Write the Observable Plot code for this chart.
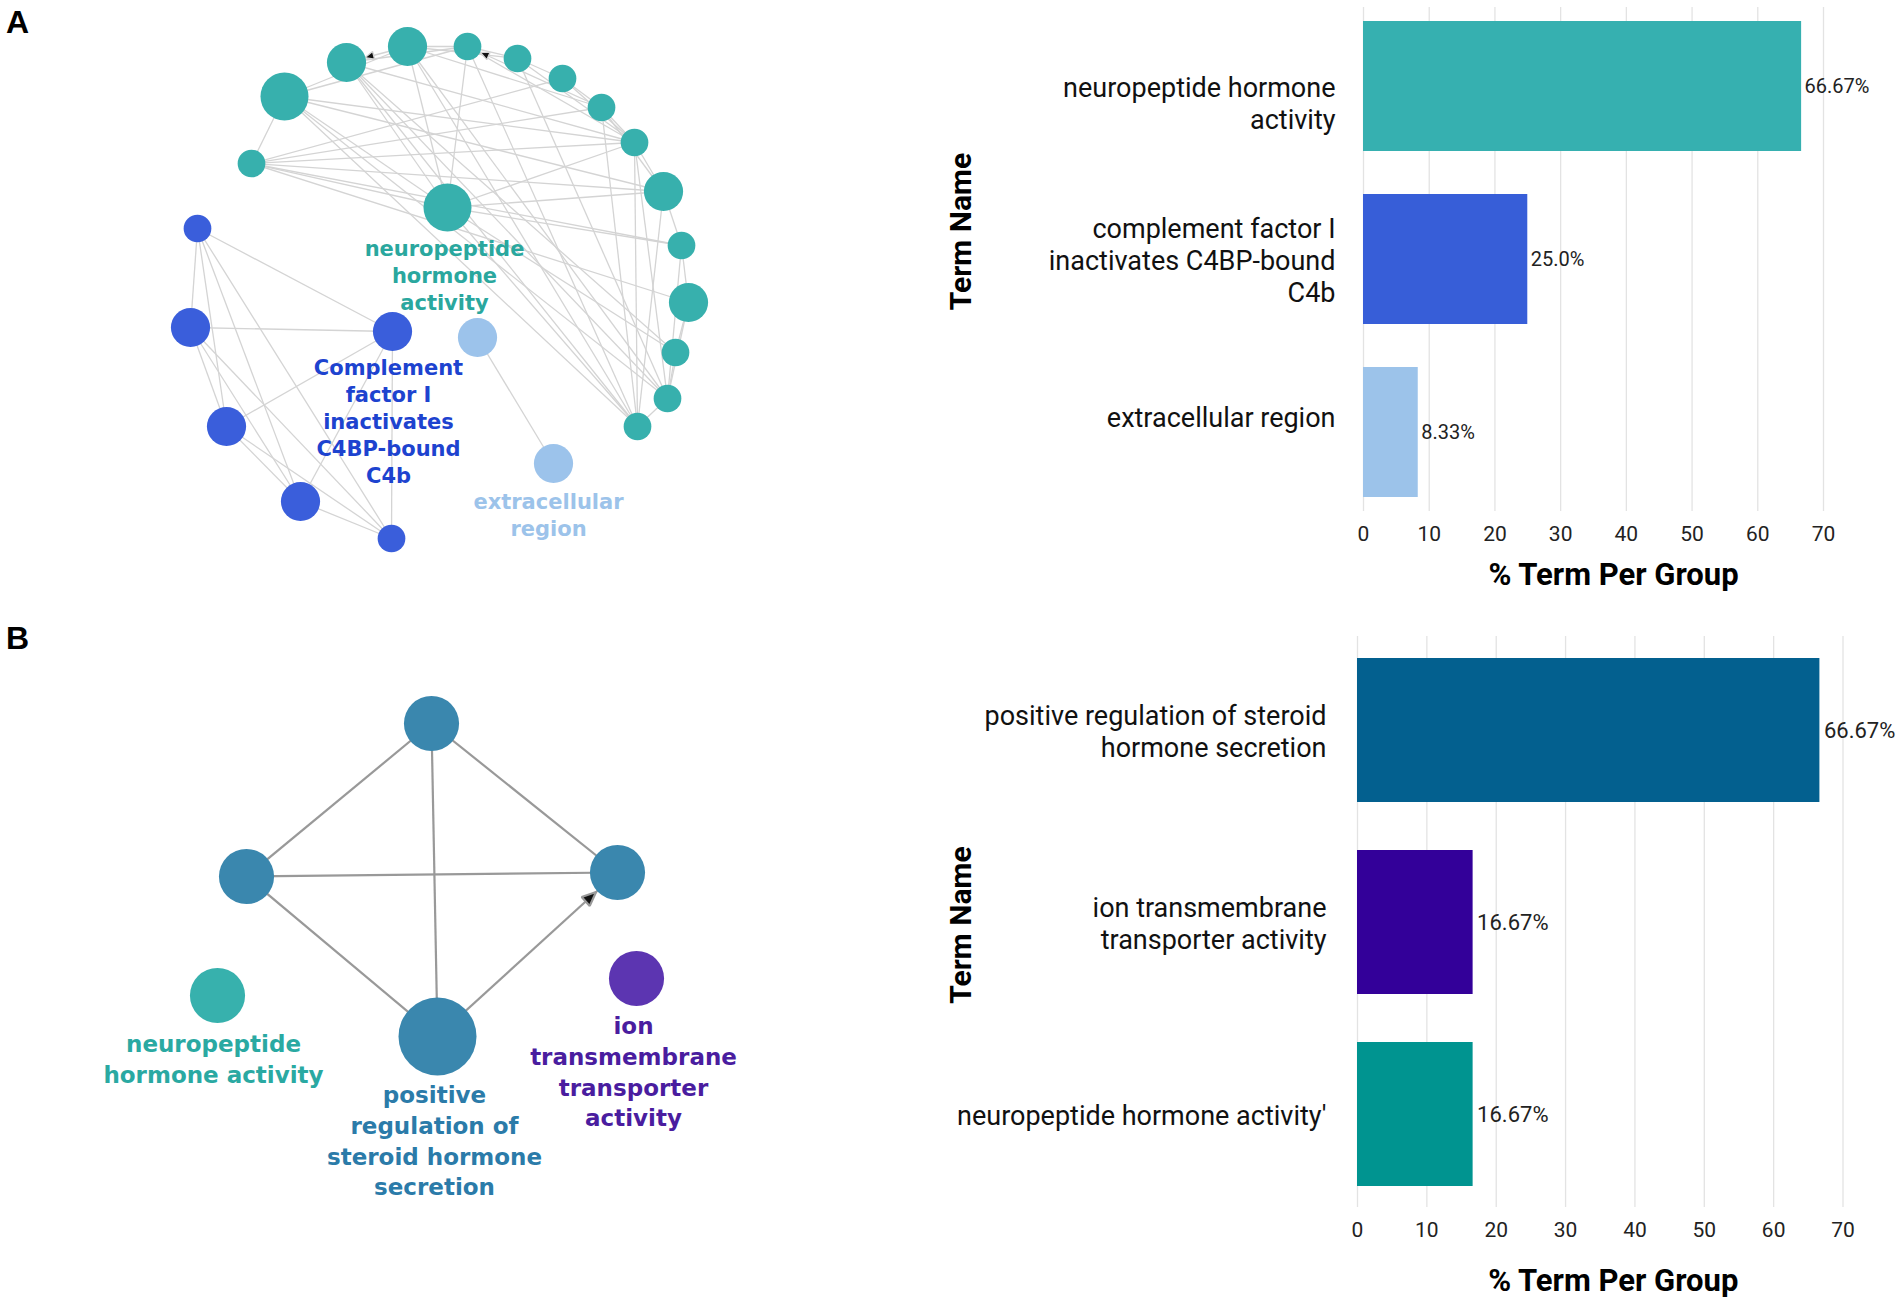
<!DOCTYPE html>
<html><head><meta charset="utf-8">
<script src="https://cdn.jsdelivr.net/npm/d3@7"></script>
<script src="https://cdn.jsdelivr.net/npm/@observablehq/plot@0.6"></script>
<style>
body{margin:0;background:#fff;}
#fig{position:relative;width:1902px;height:1301px;background:#fff;overflow:hidden;}
.panel{position:absolute;}
.letter{position:absolute;font:bold 32px "Liberation Sans",Arial,sans-serif;color:#000;line-height:1;}
</style></head><body><div id="fig"></div>
<script>
// ---------------- DATA ----------------
// Panel A – bar chart
const termsA = ["neuropeptide hormone activity", "complement factor I inactivates C4BP-bound C4b", "extracellular region"];
const tickLabelsA = ["\nneuropeptide hormone\nactivity", "complement factor I\ninactivates C4BP-bound\nC4b", "extracellular region\n"];
const pctA = [66.67, 25.0, 8.33];
const pctLabelsA = ["66.67%", "25.0%", "8.33%"];
// Panel B – bar chart
const termsB = ["positive regulation of steroid hormone secretion", "ion transmembrane transporter activity", "neuropeptide hormone activity"];
const tickLabelsB = ["positive regulation of steroid\nhormone secretion", "ion transmembrane\ntransporter activity", "neuropeptide hormone activity\u2032"];
const pctB = [66.67, 16.67, 16.67];
const pctLabelsB = ["66.67%", "16.67%", "16.67%"];
const xTicks = [0, 10, 20, 30, 40, 50, 60, 70];

// Panel A – network (layout coordinates, node size class, group)
const netA_x     = [284, 346, 407, 467, 517, 562, 601, 634, 663, 681, 688, 675, 667, 637, 251, 447, 197, 190, 392, 226, 300, 391, 477, 553];
const netA_y     = [ 96,  62,  46,  46,  58,  78, 107, 142, 191, 245, 302, 352, 398, 426, 163, 207, 228, 327, 331, 426, 501, 538, 337, 463];
const netA_size  = [  3,   2,   2,   1,   1,   1,   1,   1,   2,   1,   2,   1,   1,   1,   1,   3,   1,   2,   2,   2,   2,   1,   2,   2];
const netA_group = ["np","np","np","np","np","np","np","np","np","np","np","np","np","np","np","np","cf","cf","cf","cf","cf","cf","ex","ex"];
const netA_edges = [
  [0,14],[2,3],[3,4],[4,5],[5,6],[6,7],[7,8],[8,9],[9,10],[10,11],[11,12],[12,13],
  [14,15],[14,6],[14,7],[14,8],[14,9],[14,5],[14,10],
  [0,2],[0,3],[0,7],[0,8],[0,13],[0,12],[0,15],
  [1,3],[1,13],[1,12],[1,11],[1,15],[1,7],
  [2,15],[2,13],[2,12],[2,4],[2,6],
  [3,15],[3,13],[3,7],[4,7],[4,12],
  [15,8],[15,9],[15,7],[15,13],[15,11],
  [7,13],[6,13],[8,13],[9,12],[10,12],[7,12],[5,7],[6,8],
  [16,17],[16,18],[16,19],[16,20],[16,21],[17,18],[17,19],[17,20],[17,21],
  [18,19],[18,20],[18,21],[19,20],[19,21],[20,21],
  [22,23]
];
const netA_arrowsToBig = [[2,1]];   // directed edge ending on a medium node
const netA_arrowsToSmall = [[6,3]]; // directed edge ending on a small node
const netA_groups = ["np", "cf", "ex"];
const netA_labels = ["neuropeptide\nhormone\nactivity", "Complement\nfactor I\ninactivates\nC4BP-bound\nC4b", "extracellular\nregion"];
const netA_label_x = [444, 388, 548];
const netA_label_y = [274, 420, 513];

// Panel B – network
const netB_x     = [431, 246, 617, 437, 217, 636];
const netB_y     = [123, 276, 272, 436, 395, 378];
const netB_size  = [1, 1, 1, 2, 1, 1];
const netB_group = ["ps", "ps", "ps", "ps", "np", "ion"];
const netB_edges = [[0,1],[0,2],[0,3],[1,2],[1,3]];
const netB_arrows = [[3,2]];
const netB_groups = ["ps", "np", "ion"];
const netB_labels = ["positive\nregulation of\nsteroid hormone\nsecretion", "neuropeptide\nhormone activity", "ion\ntransmembrane\ntransporter\nactivity"];
const netB_label_x = [434, 213, 633];
const netB_label_y = [539, 457, 470];

// ---------------- STYLES ----------------
const barColorsA = ["#36b0b0", "#375ed8", "#9cc3ea"];
const barColorsB = ["#03608f", "#330099", "#009490"];
const nodeColorsA = ["#37b0ad", "#3a5edb", "#9cc3eb"];
const textColorsA = ["#2aa79e", "#1d43cf", "#9cc3ea"];
const nodeColorsB = ["#3a87ae", "#37b1ad", "#5c35b1"];
const textColorsB = ["#2b7ba9", "#2aa9a2", "#4a1d9f"];

// ---------------- HELPERS ----------------
const fig = document.getElementById("fig");
function place(node, left, top) {
  const d = document.createElement("div");
  d.className = "panel"; d.style.left = left + "px"; d.style.top = top + "px";
  d.appendChild(node); fig.appendChild(d);
}
function letter(t, left, top) {
  const d = document.createElement("div");
  d.className = "letter"; d.textContent = t; d.style.left = left + "px"; d.style.top = top + "px";
  fig.appendChild(d);
}
function arrowHead(len, half, back) {
  return () => {
    const m = document.createElementNS("http://www.w3.org/2000/svg", "marker");
    m.setAttribute("markerUnits", "userSpaceOnUse");
    m.setAttribute("orient", "auto");
    m.setAttribute("markerWidth", len + back + 4);
    m.setAttribute("markerHeight", 2 * half + 4);
    m.setAttribute("refX", len + back);
    m.setAttribute("refY", 0);
    m.setAttribute("overflow", "visible");
    const p = document.createElementNS("http://www.w3.org/2000/svg", "path");
    p.setAttribute("d", `M0,${-half}L${len},0L0,${half}Z`);
    p.setAttribute("fill", "#111");
    m.appendChild(p);
    return m;
  };
}

function barChart(o) {
  const data = o.terms.map((t, i) => ({term: t, label: o.labels[i], value: o.values[i], vlabel: o.valueLabels[i]}));
  return Plot.plot({
    width: o.width, height: o.height,
    marginLeft: o.marginLeft, marginRight: o.marginRight, marginTop: o.marginTop, marginBottom: o.marginBottom,
    style: {fontFamily: "Roboto, sans-serif", background: "transparent", overflow: "visible"},
    x: {domain: [0, 70]},
    y: {type: "band", domain: o.terms, paddingInner: 0.25, paddingOuter: o.paddingOuter, axis: null},
    color: {domain: o.terms, range: o.colors},
    marks: [
      Plot.gridX(xTicks, {stroke: "#e3e3e3", strokeOpacity: 1, strokeWidth: 1.3}),
      Plot.barX(data, {x: "value", y: "term", fill: "term"}),
      Plot.text(data, {x: "value", y: "term", text: "vlabel", textAnchor: "start", dx: o.valueDx, fontSize: o.valueFont, fill: "#222"}),
      Plot.text(data, {x: 0, y: "term", text: "label", textAnchor: "end", dx: o.labelDx, fontSize: 27, lineHeight: o.lineHeight, fill: "#111"}),
      Plot.axisX(xTicks, {tickSize: 0, tickPadding: 15, fontSize: 21, color: "#222", label: null}),
      Plot.text(["% Term Per Group"], {text: d => d, frameAnchor: "bottom", dx: o.titleDx, dy: o.titleDy, fontSize: 31, fontWeight: "bold", fill: "#000", lineAnchor: "middle"}),
      Plot.text(["Term Name"], {text: d => d, frameAnchor: "left", rotate: -90, dx: o.yTitleDx, dy: o.yTitleDy, fontSize: 30, fontWeight: "bold", fill: "#000", lineAnchor: "middle", textAnchor: "middle"})
    ]
  });
}

function network(o) {
  const nodes = o.x.map((x, i) => ({x, y: o.y[i], size: o.size[i], group: o.group[i]}));
  const ends = (e) => ({x1: nodes[e[0]].x, y1: nodes[e[0]].y, x2: nodes[e[1]].x, y2: nodes[e[1]].y});
  const labels = o.labels.map((t, i) => ({text: t, x: o.lx[i], y: o.ly[i], group: o.groups[i]}));
  const arrowMarks = o.arrowSets.map(s => Plot.link(s.edges.map(ends), {x1: "x1", y1: "y1", x2: "x2", y2: "y2", stroke: o.edgeColor, strokeWidth: o.edgeWidth, markerEnd: arrowHead(s.len, s.half, s.back)}));
  return Plot.plot({
    width: o.width, height: o.height, margin: 0,
    style: {background: "transparent", overflow: "visible"},
    x: {domain: [0, o.width], range: [0, o.width], axis: null},
    y: {domain: [0, o.height], range: [0, o.height], axis: null},
    r: {type: "sqrt", domain: [0, o.rMaxValue], range: [0, o.rMax]},
    marks: [
      Plot.link(o.edges.map(ends), {x1: "x1", y1: "y1", x2: "x2", y2: "y2", stroke: o.edgeColor, strokeWidth: o.edgeWidth}),
      ...arrowMarks,
      Plot.dot(nodes, {x: "x", y: "y", r: "size", fill: d => o.nodeColors[o.groups.indexOf(d.group)], stroke: null}),
      Plot.text(labels, {x: "x", y: "y", text: "text", fill: d => o.textColors[o.groups.indexOf(d.group)], fontSize: o.fontSize, fontWeight: "bold", fontFamily: "'DejaVu Sans', Verdana, sans-serif", lineHeight: o.lineHeight, lineAnchor: "middle"})
    ]
  });
}

// ---------------- DRAW ----------------
letter("A", 6, 6);
letter("B", 6, 622);

place(network({
  width: 760, height: 600, x: netA_x, y: netA_y, size: netA_size, group: netA_group,
  edges: netA_edges, groups: netA_groups, nodeColors: nodeColorsA, textColors: textColorsA,
  arrowSets: [{edges: netA_arrowsToBig, len: 9, half: 4, back: 19}, {edges: netA_arrowsToSmall, len: 9, half: 4, back: 14}],
  labels: netA_labels, lx: netA_label_x, ly: netA_label_y,
  rMaxValue: 3, rMax: 24, edgeColor: "#d4d4d4", edgeWidth: 1.3, fontSize: 21, lineHeight: 1.29
}), 0, 0);

place(barChart({
  terms: termsA, labels: tickLabelsA, values: pctA, valueLabels: pctLabelsA, colors: barColorsA,
  width: 1000, height: 600, marginLeft: 463, marginRight: 77, marginTop: 7, marginBottom: 89,
  paddingOuter: 0.08, labelDx: -28, lineHeight: 1.18, valueFont: 20, valueDx: 3,
  titleDx: 20, titleDy: 64, yTitleDx: -402, yTitleDy: -28
}), 900, 0);

place(network({
  width: 800, height: 701, x: netB_x, y: netB_y, size: netB_size, group: netB_group,
  edges: netB_edges, groups: netB_groups, nodeColors: nodeColorsB, textColors: textColorsB,
  arrowSets: [{edges: netB_arrows, len: 14, half: 6, back: 29}],
  labels: netB_labels, lx: netB_label_x, ly: netB_label_y,
  rMaxValue: 2, rMax: 39, edgeColor: "#999999", edgeWidth: 2.2, fontSize: 23, lineHeight: 1.33
}), 0, 600);

place(barChart({
  terms: termsB, labels: tickLabelsB, values: pctB, valueLabels: pctLabelsB, colors: barColorsB,
  width: 1000, height: 680, marginLeft: 457, marginRight: 57.5, marginTop: 16, marginBottom: 93,
  paddingOuter: 0.107, labelDx: -31, lineHeight: 32 / 27, valueFont: 22, valueDx: 4,
  titleDx: 13, titleDy: 74, yTitleDx: -396, yTitleDy: 3
}), 900, 620);
</script></body></html>
